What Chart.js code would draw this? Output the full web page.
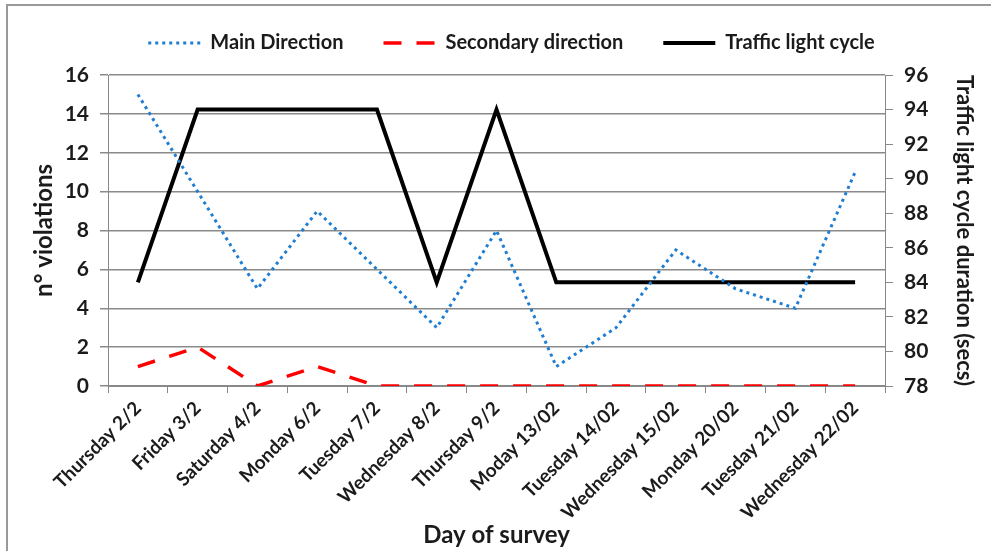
<!DOCTYPE html>
<html>
<head>
<meta charset="utf-8">
<script src="https://cdn.jsdelivr.net/npm/chart.js@4.4.1/dist/chart.umd.min.js"></script>
<style>
  html,body{margin:0;padding:0;background:#fff;}
  #frame{position:absolute;left:6px;top:4px;right:0;bottom:0;border-top:2px solid #999;border-left:2px solid #999;}
  #wrap{position:absolute;left:0;top:0;width:991px;height:551px;}
</style>
</head>
<body>
<div id="frame"></div>
<div id="wrap"><canvas id="chart"></canvas></div>
<script>
const days = ['Thursday 2/2','Friday 3/2','Saturday 4/2','Monday 6/2','Tuesday 7/2','Wednesday 8/2','Thursday 9/2','Moday 13/02','Tuesday 14/02','Wednesday 15/02','Monday 20/02','Tuesday 21/02','Wednesday 22/02'];
const mainDirection = [15,10,5,9,6,3,8,1,3,7,5,4,11];
const secondaryDirection = [1,2,0,1,0,0,0,0,0,0,0,0,0];
const cycleDuration = [84,94,94,94,94,84,94,84,84,84,84,84,84];
const leftTicks = [0,16,2];
const rightTicks = [78,96,2];

const txt = '#1b1b1b';
const font = 'Lato, "Open Sans", sans-serif';

// the legend keeps its 40px item gap, but its box is made taller so the plot starts lower,
// and it is nudged right to sit where the original one is
const legendSpacer = {
    id:'legendSpacer',
    beforeUpdate(chart){
        const lg = chart.legend;
        if (lg && !lg._spaced){
            const fit = lg.fit;
            lg.fit = function(){ fit.call(this); this.height = 82; };
            lg._spaced = true;
        }
    },
    afterLayout(chart){
        chart.legend.left += 16;
        chart.legend.right += 16;
    }
};

const ctx = document.getElementById('chart');
new Chart(ctx,{
    type:'line',
    data:{
        labels:days,
        datasets:[{
            label:'Main Direction',
            data:mainDirection,
            borderColor:'#1f7ed1',
            borderWidth:3,
            borderDash:[3,4],
            pointRadius:0,
            tension:0,
            yAxisID:'y'
        },{
            label:'Secondary direction',
            data:secondaryDirection,
            borderColor:'#ff0000',
            borderWidth:3.5,
            borderDash:[18,15],
            pointRadius:0,
            tension:0,
            yAxisID:'y'
        },{
            label:'Traffic light cycle',
            data:cycleDuration,
            borderColor:'#000',
            borderWidth:4,
            pointRadius:0,
            tension:0,
            yAxisID:'y2'
        }]
    },
    plugins:[legendSpacer],
    options:{
        responsive:true,
        maintainAspectRatio:false,
        animation:false,
        layout:{padding:{top:-7,left:0,right:0,bottom:0}},
        plugins:{
            legend:{
                labels:{
                    color:txt,
                    font:{family:font,size:20,weight:'bold'},
                    usePointStyle:true,
                    pointStyle:'line',
                    pointStyleWidth:52,
                    boxWidth:52,
                    padding:40,
                    generateLabels(chart){
                        return chart.data.datasets.map((ds,i)=>({
                            text:ds.label,
                            datasetIndex:i,
                            fillStyle:ds.borderColor,
                            strokeStyle:ds.borderColor,
                            lineWidth:ds.borderWidth,
                            lineDash:ds.borderDash||[],
                            pointStyle:'line',
                            fontColor:txt,
                            hidden:false
                        }));
                    }
                }
            },
            tooltip:{enabled:false}
        },
        scales:{
            x:{
                offset:true,
                afterFit(s){s.height=165;},
                grid:{offset:true,drawOnChartArea:false,drawTicks:true,tickLength:7,color:'#888'},
                border:{color:'#888'},
                ticks:{color:txt,font:{family:font,size:19,weight:'bold'},maxRotation:45,minRotation:45,padding:4},
                title:{display:true,text:'Day of survey',color:txt,font:{family:font,size:24,weight:'bold'},padding:{top:1,bottom:1}}
            },
            y:{
                position:'left',
                afterFit(s){s.width=108;},
                min:leftTicks[0],max:leftTicks[1],
                ticks:{stepSize:leftTicks[2],color:txt,font:{family:font,size:21,weight:'bold'},padding:11},
                grid:{color:'#8a8a8a',lineWidth:1.5,tickLength:8},
                border:{color:'#888'},
                title:{display:true,text:'n° violations',color:txt,font:{family:font,size:24,weight:'bold'},padding:{top:30,bottom:30}}
            },
            y2:{
                position:'right',
                afterFit(s){s.width=106;},
                min:rightTicks[0],max:rightTicks[1],
                ticks:{stepSize:rightTicks[2],color:txt,font:{family:font,size:21,weight:'bold'},padding:11},
                grid:{drawOnChartArea:false,color:'#888',tickLength:8},
                border:{color:'#888'},
                title:{display:true,text:'Traffic light cycle duration (secs)',color:txt,font:{family:font,size:22,weight:'bold'},padding:{top:14,bottom:14}}
            }
        }
    }
});
</script>
</body>
</html>
